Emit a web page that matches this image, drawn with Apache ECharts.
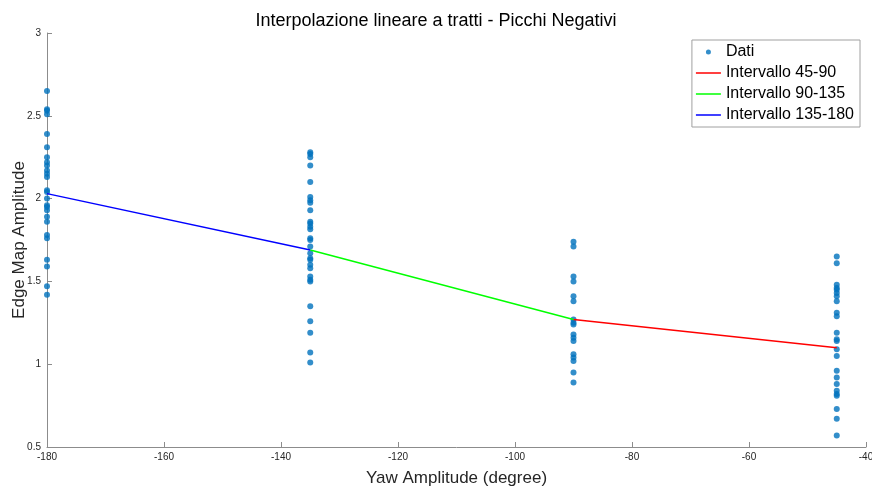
<!DOCTYPE html>
<html>
<head>
<meta charset="utf-8">
<script src="https://cdn.jsdelivr.net/npm/echarts@6/dist/echarts.min.js"></script>
<style>html,body{margin:0;padding:0;background:#fff}#c{width:872px;height:486px}</style>
</head>
<body>
<div id="c"></div>
<script>
// Data
var xCategories = [-180, -135, -90, -45];
var dati180 = [2.65, 2.54, 2.53, 2.51, 2.39, 2.31, 2.25, 2.22, 2.2, 2.17, 2.15, 2.13, 2.05, 2.04, 2.0, 1.96, 1.95, 1.93, 1.89, 1.86, 1.78, 1.76, 1.63, 1.59, 1.47, 1.42];
var dati135 = [2.28, 2.27, 2.25, 2.2, 2.1, 2.01, 1.99, 1.975, 1.93, 1.86, 1.85, 1.83, 1.815, 1.76, 1.75, 1.71, 1.67, 1.64, 1.63, 1.6, 1.58, 1.53, 1.51, 1.5, 1.35, 1.26, 1.19, 1.07, 1.01];
var dati90 = [1.74, 1.71, 1.53, 1.5, 1.41, 1.38, 1.27, 1.25, 1.24, 1.18, 1.16, 1.14, 1.06, 1.04, 1.02, 0.95, 0.89];
var dati45 = [1.65, 1.61, 1.48, 1.46, 1.45, 1.43, 1.41, 1.38, 1.31, 1.29, 1.19, 1.15, 1.14, 1.09, 1.05, 0.96, 0.92, 0.88, 0.84, 0.82, 0.81, 0.73, 0.67, 0.57];
var fitX = [-180, -135, -90, -45];
var fitY = [2.03, 1.69, 1.27, 1.10];
var xTicks = {min: -180, max: -40, interval: 20};
var yTicks = {min: 0.5, max: 3, interval: 0.5};

var groups = [dati180, dati135, dati90, dati45];
var scatterData = [];
groups.forEach(function (g, i) {
  g.forEach(function (v) { scatterData.push([xCategories[i], v]); });
});
function seg(a, b) { return [[fitX[a], fitY[a]], [fitX[b], fitY[b]]]; }

var font = 'Liberation Sans, Arial, Helvetica, sans-serif';
var axisGray = '#8c8c8c';
var dotIcon = 'path://M0,0 M25,16 M12.5,5.5 A2.5,2.5 0 1,1 12.5,10.5 A2.5,2.5 0 1,1 12.5,5.5 Z';
var lineIcon = 'path://M0,0 M25,16 M0,7.25 L25,7.25 L25,8.75 L0,8.75 Z';
var chart = echarts.init(document.getElementById('c'), null, {renderer: 'canvas'});
chart.setOption({
  animation: false,
  backgroundColor: '#ffffff',
  textStyle: {fontFamily: font},
  title: {
    text: 'Interpolazione lineare a tratti - Picchi Negativi',
    left: 'center', top: 7,
    textStyle: {fontSize: 18, fontWeight: 'normal', color: '#000', fontFamily: font}
  },
  grid: {left: 47, right: 6, top: 33, bottom: 39, containLabel: false, outerBoundsMode: 'none'},
  legend: {
    orient: 'vertical', right: 12, top: 40,
    backgroundColor: '#fff', borderColor: '#a0a0a0', borderWidth: 1,
    padding: [4, 6, 4, 4], itemGap: 5, itemWidth: 25, itemHeight: 16,
    textStyle: {fontSize: 16, color: '#000', fontFamily: font},
    data: [
      {name: 'Dati', icon: dotIcon, itemStyle: {color: '#0072BD'}},
      {name: 'Intervallo 45-90', icon: lineIcon, itemStyle: {color: '#ff0000'}},
      {name: 'Intervallo 90-135', icon: lineIcon, itemStyle: {color: '#00ff00'}},
      {name: 'Intervallo 135-180', icon: lineIcon, itemStyle: {color: '#0000ff'}}
    ]
  },
  xAxis: {
    type: 'value', min: xTicks.min, max: xTicks.max, interval: xTicks.interval,
    name: 'Yaw Amplitude (degree)', nameLocation: 'middle', nameGap: 23,
    nameTextStyle: {fontSize: 17, color: '#262626', fontFamily: font},
    axisLine: {show: true, onZero: false, lineStyle: {color: axisGray, width: 1}},
    axisTick: {show: true, inside: true, length: 5, lineStyle: {color: axisGray}},
    axisLabel: {fontSize: 10, color: '#262626', margin: 5, showMinLabel: true, showMaxLabel: true},
    splitLine: {show: false}
  },
  yAxis: {
    type: 'value', min: yTicks.min, max: yTicks.max, interval: yTicks.interval,
    name: 'Edge Map Amplitude', nameLocation: 'middle', nameGap: 19, nameRotate: 90,
    nameMoveOverlap: false,
    nameTextStyle: {fontSize: 17, color: '#262626', fontFamily: font},
    axisLine: {show: true, onZero: false, lineStyle: {color: axisGray, width: 1}},
    axisTick: {show: true, inside: true, length: 5, lineStyle: {color: axisGray}},
    axisLabel: {fontSize: 10, color: '#262626', margin: 6},
    splitLine: {show: false}
  },
  series: [
    {name: 'Dati', type: 'scatter', data: scatterData, symbol: 'circle', symbolSize: 6,
     itemStyle: {color: '#0072BD'}, z: 3},
    {name: 'Intervallo 45-90', type: 'line', data: seg(2, 3), showSymbol: false, symbol: 'none',
     lineStyle: {color: '#ff0000', width: 1.5}, itemStyle: {color: '#ff0000'}, z: 4},
    {name: 'Intervallo 90-135', type: 'line', data: seg(1, 2), showSymbol: false, symbol: 'none',
     lineStyle: {color: '#00ff00', width: 1.5}, itemStyle: {color: '#00ff00'}, z: 4},
    {name: 'Intervallo 135-180', type: 'line', data: seg(0, 1), showSymbol: false, symbol: 'none',
     lineStyle: {color: '#0000ff', width: 1.5}, itemStyle: {color: '#0000ff'}, z: 4}
  ]
});
</script>
</body>
</html>
